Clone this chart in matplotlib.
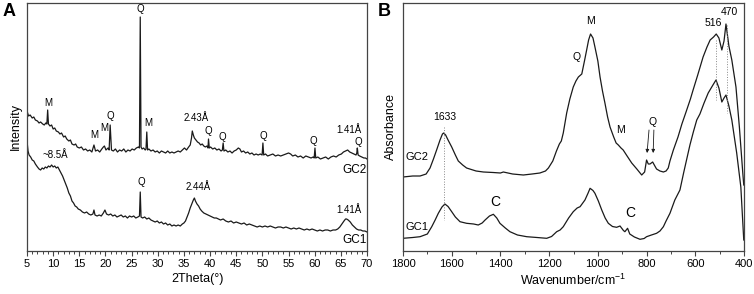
import numpy as np
import matplotlib
matplotlib.use('Agg')
import matplotlib.pyplot as plt
from matplotlib.ticker import MultipleLocator

plt.rcParams['font.family'] = ['Liberation Sans', 'DejaVu Sans']

# ---- panel A: XRD (2theta, arbitrary intensity) ----
xrd_gc2_x = [5.0, 5.3, 5.6, 6.0, 6.3, 6.6, 7.0, 7.3, 7.6, 8.0, 8.3, 8.6, 8.8, 8.95, 9.1,
             9.4, 9.7, 10.0, 10.3, 10.6, 11.0, 11.3, 11.6, 12.0, 12.3, 12.6, 13.0, 13.3,
             13.6, 14.0, 14.3, 14.6, 15.0, 15.4, 15.8, 16.2, 16.6, 17.0, 17.4, 17.8, 18.1,
             18.5, 18.9, 19.3, 19.6, 19.8, 20.1, 20.5, 20.7, 20.9, 21.15, 21.5, 21.9, 22.3,
             22.7, 23.1, 23.5, 23.9, 24.3, 24.7, 25.1, 25.5, 25.9, 26.3, 26.5, 26.65, 26.8,
             27.0, 27.3, 27.6, 27.75, 27.9, 28.05, 28.3, 28.7, 29.1, 29.5, 29.9, 30.3, 30.7,
             31.1, 31.5, 31.9, 32.3, 32.7, 33.1, 33.5, 33.9, 34.3, 34.7, 35.1, 35.5, 35.9,
             36.2, 36.45, 36.6, 36.8, 37.0, 37.3, 37.6, 37.9, 38.2, 38.5, 38.8, 39.1, 39.4,
             39.6, 39.7, 39.85, 40.1, 40.5, 40.9, 41.3, 41.7, 42.1, 42.35, 42.5, 42.65, 43.0,
             43.4, 43.8, 44.2, 44.6, 45.0, 45.4, 45.7, 46.0, 46.4, 46.8, 47.2, 47.6, 48.0,
             48.4, 48.8, 49.2, 49.6, 49.95, 50.1, 50.25, 50.6, 51.0, 51.5, 52.0, 52.5, 53.0,
             53.5, 54.0, 54.5, 55.0, 55.4, 55.8, 56.3, 56.8, 57.3, 57.8, 58.3, 58.8, 59.3,
             59.7, 59.9, 60.05, 60.2, 60.6, 61.1, 61.6, 62.1, 62.6, 63.1, 63.6, 64.1, 64.6,
             65.1, 65.5, 65.9, 66.3, 66.7, 67.1, 67.5, 67.9, 68.05, 68.15, 68.3, 68.6, 69.0,
             69.4, 69.7, 70.0]
xrd_gc2_y = [140, 135, 136, 133, 134, 131, 130, 128, 129, 127, 126, 128, 127, 141, 127,
             125, 126, 122, 123, 120, 119, 117, 118, 114, 115, 112, 110, 111,
             107, 106, 107, 104, 103, 104, 101, 102, 100, 101, 99, 106, 100,
             101, 99, 102, 104, 105, 101, 103, 101, 126, 101, 100, 102, 99,
             101, 100, 102, 99, 101, 100, 102, 101, 103, 104, 103, 234, 104,
             102, 103, 101, 102, 119, 101, 102, 100, 101, 99, 100, 98, 100,
             99, 98, 100, 98, 99, 98, 99, 100, 99, 101, 103, 101, 104,
             106, 113, 120, 116, 113, 111, 109, 108, 106, 107, 105, 104, 105,
             103, 112, 103, 104, 102, 103, 101, 102, 100, 101, 108, 100, 101,
             99, 100, 98, 100, 101, 103, 102, 99, 100, 98, 99, 97, 98,
             96, 97, 96, 97, 96, 108, 96, 97, 95, 96, 97, 95, 96,
             95, 96, 97, 98, 97, 95, 96, 94, 95, 93, 95, 94, 93,
             94, 93, 103, 93, 94, 92, 93, 94, 92, 94, 95, 94, 96,
             97, 99, 100, 101, 99, 98, 97, 96, 98, 103, 96, 95, 94,
             93, 93, 92]

xrd_gc1_x = [5.0, 5.2, 5.4, 5.7, 6.0, 6.3, 6.6, 7.0, 7.3, 7.6, 7.9, 8.2, 8.5, 8.8, 9.1,
             9.4, 9.7, 10.0, 10.3, 10.6, 10.9, 11.2, 11.5, 11.8, 12.1, 12.4, 12.7, 13.0,
             13.3, 13.6, 13.9, 14.2, 14.5, 14.8, 15.2, 15.6, 16.0, 16.4, 16.8, 17.2, 17.6,
             17.8, 18.0, 18.4, 18.8, 19.2, 19.6, 19.9, 20.2, 20.6, 21.0, 21.4, 21.8, 22.2,
             22.6, 23.0, 23.4, 23.8, 24.2, 24.6, 25.0, 25.4, 25.8, 26.2, 26.5, 26.65, 26.8,
             27.1, 27.5, 27.9, 28.3, 28.7, 29.1, 29.5, 29.9, 30.3, 30.7, 31.1, 31.5, 31.9,
             32.3, 32.7, 33.1, 33.5, 33.9, 34.3, 34.7, 35.0, 35.3, 35.6, 35.9, 36.2, 36.5,
             36.8, 37.0, 37.2, 37.5, 37.8, 38.1, 38.4, 38.8, 39.2, 39.6, 40.0, 40.4, 40.8,
             41.2, 41.6, 42.0, 42.5, 43.0, 43.5, 44.0, 44.5, 45.0, 45.5, 46.0, 46.5, 47.0,
             47.5, 48.0, 48.5, 49.0, 49.5, 50.0, 50.5, 51.0, 51.5, 52.0, 52.5, 53.0, 53.5,
             54.0, 54.5, 55.0, 55.5, 56.0, 56.5, 57.0, 57.5, 58.0, 58.5, 59.0, 59.5, 60.0,
             60.5, 61.0, 61.5, 62.0, 62.5, 63.0, 63.5, 64.0, 64.4, 64.8, 65.2, 65.6, 65.9,
             66.1, 66.4, 66.8, 67.2, 67.6, 68.0, 68.4, 68.8, 69.2, 69.6, 70.0]
xrd_gc1_y = [110, 100, 96, 94, 91, 90, 87, 84, 82, 81, 83, 82, 84, 83, 85,
             84, 86, 84, 85, 83, 84, 81, 78, 75, 71, 67, 63, 58,
             55, 50, 48, 45, 44, 42, 41, 39, 38, 39, 37, 36, 37,
             41, 36, 35, 36, 35, 38, 41, 37, 36, 37, 35, 36, 34,
             35, 36, 34, 35, 33, 35, 34, 35, 33, 34, 35, 59, 34,
             33, 34, 32, 33, 31, 30, 29, 30, 28, 29, 27, 28, 26,
             27, 25, 26, 25, 26, 25, 27, 28, 30, 34, 38, 43, 47,
             51, 53, 50, 47, 45, 42, 40, 38, 37, 36, 35, 34, 33,
             33, 32, 31, 32, 30, 29, 30, 28, 29, 28, 27, 28, 26,
             27, 26, 25, 24, 25, 24, 25, 24, 25, 24, 23, 24, 24,
             23, 24, 23, 22, 23, 22, 23, 22, 21, 22, 21, 22, 21,
             20, 21, 20, 21, 21, 20, 21, 21, 22, 24, 27, 30, 32,
             32, 31, 29, 26, 24, 22, 21, 21, 20, 20, 19]

# ---- panel B: FTIR (wavenumber, arbitrary absorbance) ----
ir_gc2_x = [1800, 1760, 1730, 1705, 1689, 1675, 1662, 1648, 1638, 1633, 1625, 1615, 1600,
            1585, 1573, 1555, 1539, 1500, 1470, 1430, 1400, 1388, 1350, 1306, 1270, 1238,
            1215, 1203, 1185, 1170, 1158, 1150, 1142, 1128, 1115, 1101, 1090, 1080, 1066,
            1055, 1046, 1038, 1030, 1020, 1012, 1000, 991, 981, 971, 960, 950, 935, 925,
            916, 905, 896, 880, 861, 840, 820, 808, 800, 793, 786, 775, 766, 759, 745, 731,
            720, 711, 704, 690, 671, 655, 638, 620, 609, 590, 568, 552, 539, 525, 514, 503,
            491, 482, 474, 462, 450, 433, 419, 405, 401]
ir_gc2_y = [74, 75, 75, 77, 83, 92, 101, 111, 117, 118, 116, 111, 104,
            96, 90, 86, 83, 80, 79, 78.5, 78, 79, 77, 76, 77, 78,
            80, 83, 90, 100, 107, 110, 118, 138, 152, 164, 170, 174, 177,
            190, 201, 211, 217, 213, 204, 190, 174, 160, 148, 134, 124, 114, 108,
            106, 103, 101, 95, 88, 82, 76, 79, 91, 87, 87, 89, 85, 82, 80, 79,
            80, 83, 90, 101, 114, 127, 139, 152, 161, 176, 194, 204, 211, 214, 217, 213,
            201, 210, 227, 205, 191, 164, 124, 78, 66]

ir_gc1_x = [1800, 1760, 1730, 1700, 1682, 1668, 1655, 1640, 1628, 1615, 1600, 1585, 1566,
            1539, 1510, 1491, 1475, 1463, 1445, 1429, 1415, 1402, 1380, 1361, 1330, 1292,
            1250, 1210, 1190, 1169, 1155, 1142, 1120, 1101, 1085, 1073, 1053, 1040, 1032,
            1020, 1012, 998, 984, 970, 957, 940, 923, 909, 895, 889, 878, 869, 850, 827,
            810, 800, 780, 759, 745, 731, 720, 704, 684, 663, 648, 635, 622, 608, 594, 581,
            564, 547, 530, 515, 503, 491, 482, 474, 462, 450, 430, 413, 401]
ir_gc1_y = [12.7, 13.5, 14.3, 17, 24.3, 31, 37.7, 44, 47, 44.5, 39.3, 34, 29.3,
            27.7, 27, 26, 28, 31, 35, 36.7, 33, 27.7, 23, 19.3, 16, 14.3,
            13.5, 12.7, 14.5, 19.3, 21, 24.3, 33, 39.3, 43, 44.3, 51, 58, 62.7,
            60.5, 57.7, 50, 41, 33, 27.7, 24.5, 23.7, 25, 20.5, 19.3, 22.7, 17, 14, 11.7,
            12.5, 14.3, 16, 17.7, 20, 24.3, 30, 37.7, 51, 61, 78, 92, 106, 119, 131, 137,
            148, 158, 165, 171, 163, 149, 153, 156, 145, 131, 98, 64, 11]

xrd_labels = [('Q', 26.6, 242), ('M', 9.0, 148), ('M', 17.8, 116), ('M', 19.7, 123),
              ('Q', 21.0, 135), ('M', 28.1, 128), ('2.43Å', 37.4, 133), ('Q', 39.6, 120),
              ('Q', 42.4, 114), ('Q', 50.2, 115), ('Q', 59.8, 110), ('1.41Å', 66.5, 121),
              ('Q', 68.3, 109), ('~8.5Å', 10.4, 96), ('Q', 26.9, 69), ('2.44Å', 37.7, 64),
              ('1.41Å', 66.5, 41)]
ir_labels = [('1633', 1628, 134), ('Q', 1087, 194), ('M', 1032, 230), ('M', 909, 121),
             ('Q', 775, 129), ('516', 526, 228), ('470', 458, 239)]

line_color = '#1a1a1a'
spine_color = '#444444'

fig = plt.figure(figsize=(7.54, 2.94), dpi=100)
axA = fig.add_axes([27 / 754, 43 / 294, 340 / 754, 248 / 294])
axB = fig.add_axes([403 / 754, 43 / 294, 341 / 754, 248 / 294])

for ax in (axA, axB):
    for s in ax.spines.values():
        s.set_color(spine_color)
        s.set_linewidth(0.9)
    ax.set_yticks([])
    ax.tick_params(axis='x', direction='out', length=3.5, width=0.8,
                   color=spine_color, labelsize=8, pad=2)
    ax.tick_params(axis='x', which='minor', direction='out', length=2, width=0.7,
                   color=spine_color)
    ax.set_ylim(0, 248)

# panel A
axA.plot(xrd_gc2_x, xrd_gc2_y, color=line_color, lw=0.9)
axA.plot(xrd_gc1_x, xrd_gc1_y, color=line_color, lw=0.9)
axA.set_xlim(5, 70)
axA.xaxis.set_major_locator(MultipleLocator(5))
axA.xaxis.set_minor_locator(MultipleLocator(1))
axA.set_xlabel('2Theta(°)', fontsize=9, labelpad=3)
axA.set_ylabel('Intensity', fontsize=9, labelpad=4)
for t, x, y in xrd_labels:
    axA.text(x, y, t, fontsize=7, ha='center', va='center')
axA.text(67.7, 81, 'GC2', fontsize=8.5, ha='center', va='center')
axA.text(67.7, 11, 'GC1', fontsize=8.5, ha='center', va='center')

# panel B
axB.plot(ir_gc2_x, ir_gc2_y, color=line_color, lw=0.9)
axB.plot(ir_gc1_x, ir_gc1_y, color=line_color, lw=0.9)
axB.set_xlim(1800, 400)
axB.xaxis.set_major_locator(MultipleLocator(200))
axB.xaxis.set_minor_locator(MultipleLocator(100))
axB.set_xlabel('Wavenumber/cm$^{\\mathregular{-1}}$', fontsize=9, labelpad=3)
axB.set_ylabel('Absorbance', fontsize=9, labelpad=4)
# dotted guide lines at band positions
axB.plot([1633, 1633], [124, 31], color='#888888', lw=0.7, ls=':')
axB.plot([516, 516], [211, 151], color='#888888', lw=0.7, ls=':')
axB.plot([470, 470], [226, 138], color='#888888', lw=0.7, ls=':')
for t, x, y in ir_labels:
    axB.text(x, y, t, fontsize=7.5, ha='center', va='center')
axB.text(1744, 94, 'GC2', fontsize=8, ha='center', va='center')
axB.text(1744, 24, 'GC1', fontsize=8, ha='center', va='center')
axB.text(1422, 49, 'C', fontsize=10, ha='center', va='center')
axB.text(865, 38, 'C', fontsize=10, ha='center', va='center')
for x0, x1 in [(790, 798), (770, 773)]:
    axB.annotate('', xy=(x1, 98), xytext=(x0, 121),
                 arrowprops=dict(arrowstyle='-|>', color=line_color, lw=0.6,
                                 mutation_scale=5, shrinkA=0, shrinkB=0))

fig.text(9.5 / 754, 1 - 11.5 / 294, 'A', fontsize=13, fontweight='bold',
         ha='center', va='center')
fig.text(384 / 754, 1 - 11.5 / 294, 'B', fontsize=13, fontweight='bold',
         ha='center', va='center')

fig.savefig('out.png', dpi=100)
